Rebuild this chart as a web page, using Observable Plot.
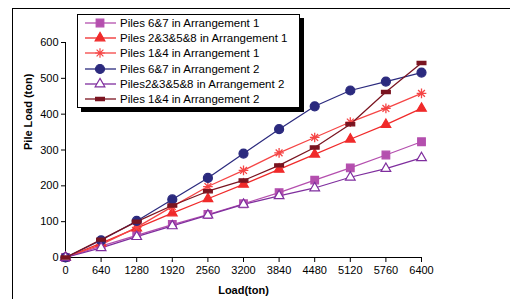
<!DOCTYPE html>
<html>
<head>
<meta charset="utf-8">
<script src="https://cdn.jsdelivr.net/npm/d3@7"></script>
<script src="https://cdn.jsdelivr.net/npm/@observablehq/plot@0.6"></script>
<style>
  body { margin: 0; background: #fff; }
  #wrap { position: relative; width: 510px; height: 299px; overflow: hidden; font-family: "Liberation Sans", Arial, sans-serif; }
  #frame { position: absolute; left: 12px; top: 8px; width: 520px; height: 320px; border: 1px solid #000; box-sizing: border-box; }
  #legend { position: absolute; left: 77px; top: 14px; width: 223px; height: 94px; border: 1px solid #000; background: #fff; box-shadow: 4px 4px 0 #000; box-sizing: border-box; font-size: 11.5px; }
  .row { position: absolute; left: 0; height: 14px; display: flex; align-items: center; }
  .row svg { display: block; }
  .row span { margin-left: 2px; white-space: nowrap; color: #000; }
</style>
</head>
<body>
<div id="wrap">
  <div id="frame"></div>
  <div id="chart" style="position:absolute;left:0;top:0;"></div>
  <div id="legend"></div>
</div>
<script>
const loads = [0, 640, 1280, 1920, 2560, 3200, 3840, 4480, 5120, 5760, 6400];
const xTicks = [0, 640, 1280, 1920, 2560, 3200, 3840, 4480, 5120, 5760, 6400];
const yTicks = [0, 100, 200, 300, 400, 500, 600];

const seriesNames = [
  "Piles 6&7 in Arrangement 1",
  "Piles 2&3&5&8 in Arrangement 1",
  "Piles 1&4 in Arrangement 1",
  "Piles 6&7 in Arrangement 2",
  "Piles2&3&5&8 in Arrangement 2",
  "Piles 1&4 in Arrangement 2"
];
const piles67A1   = [0, 32, 62, 92, 120, 150, 181, 216, 250, 286, 323];
const piles2358A1 = [0, 40, 82, 124, 164, 204, 246, 288, 330, 371, 416];
const piles14A1   = [0, 36, 84, 142, 198, 243, 292, 335, 378, 416, 458];
const piles67A2   = [0, 48, 102, 162, 222, 290, 358, 422, 466, 491, 516];
const piles2358A2 = [0, 27, 58, 88, 118, 148, 172, 194, 224, 248, 278];
const piles14A2   = [0, 50, 100, 145, 185, 215, 257, 307, 372, 462, 543];

const seriesValues = [piles67A1, piles2358A1, piles14A1, piles67A2, piles2358A2, piles14A2];
const colors = ["#b44fae", "#f02a2a", "#f54545", "#2b2a7e", "#7f2e9e", "#7a1420"];

// custom symbols
const star8 = { draw(ctx, size) {
  const r = Math.sqrt(size / Math.PI) * 1.15;
  for (let i = 0; i < 4; i++) {
    const a = i * Math.PI / 4;
    ctx.moveTo(-r * Math.cos(a), -r * Math.sin(a));
    ctx.lineTo(r * Math.cos(a), r * Math.sin(a));
  }
}};
const dash = { draw(ctx, size) {
  const w = Math.sqrt(size / Math.PI) * 1.0, h = 1.6;
  ctx.moveTo(-w, -h); ctx.lineTo(w, -h); ctx.lineTo(w, h); ctx.lineTo(-w, h); ctx.closePath();
}};
const symbols = ["square", "triangle", star8, "circle", "triangle", dash];
const fills = [colors[0], colors[1], "none", colors[3], "#fff", colors[5]];
const radii = [4.3, 3.6, 4.2, 4.5, 3.6, 4.4];

const rows = [];
seriesValues.forEach((vals, s) => loads.forEach((x, i) => rows.push({series: s, x, y: vals[i]})));

const marks = [];
seriesValues.forEach((vals, s) => {
  const data = rows.filter(d => d.series === s);
  marks.push(Plot.line(data, {x: "x", y: "y", stroke: colors[s], strokeWidth: 1.25}));
});
seriesValues.forEach((vals, s) => {
  const data = rows.filter(d => d.series === s);
  marks.push(Plot.dot(data, {x: "x", y: "y", symbol: () => symbols[s], r: radii[s],
    fill: fills[s], stroke: colors[s], strokeWidth: s === 2 ? 1.3 : 1.2}));
});

const chart = Plot.plot({
  width: 510, height: 299,
  marginLeft: 65, marginRight: 89, marginTop: 42, marginBottom: 42,
  style: {fontFamily: "'Liberation Sans', Arial, sans-serif", fontSize: "11px", background: "transparent", color: "#000", overflow: "visible"},
  x: {domain: [0, 6400], label: null},
  y: {domain: [0, 600], label: null},
  symbol: {type: "identity"},
  marks: [
    Plot.axisX({ticks: xTicks, tickSize: 5, tickPadding: 4, tickFormat: d => String(d), label: null, fontSize: 11}),
    Plot.axisY({ticks: yTicks, tickSize: 4, tickPadding: 3, tickFormat: d => String(d), label: null, fontSize: 11}),
    Plot.ruleX([0], {stroke: "#000"}),
    Plot.ruleY([0], {stroke: "#000"}),
    ...marks,
    Plot.text(["Load(ton)"], {frameAnchor: "bottom", dy: 36, fontWeight: "bold", fontSize: 11}),
    Plot.text(["Pile Load (ton)"], {frameAnchor: "left", dx: -37, rotate: -90, fontWeight: "bold", fontSize: 11})
  ]
});
document.getElementById("chart").appendChild(chart);

// legend
const legend = d3.select("#legend");
seriesNames.forEach((name, s) => {
  const row = legend.append("div").attr("class", "row").style("top", (1 + s * 15.2) + "px");
  const svg = row.append("svg").attr("width", 40).attr("height", 14);
  svg.append("line").attr("x1", 7).attr("x2", 38).attr("y1", 7).attr("y2", 7)
     .attr("stroke", colors[s]).attr("stroke-width", 1.3);
  const sym = typeof symbols[s] === "string"
    ? (symbols[s] === "square" ? d3.symbolSquare : symbols[s] === "circle" ? d3.symbolCircle : d3.symbolTriangle)
    : symbols[s];
  svg.append("path").attr("transform", "translate(22,7)")
     .attr("d", d3.symbol(sym, Math.PI * radii[s] * radii[s])())
     .attr("fill", fills[s]).attr("stroke", colors[s]).attr("stroke-width", 1.2);
  row.append("span").text(name);
});
</script>
</body>
</html>
